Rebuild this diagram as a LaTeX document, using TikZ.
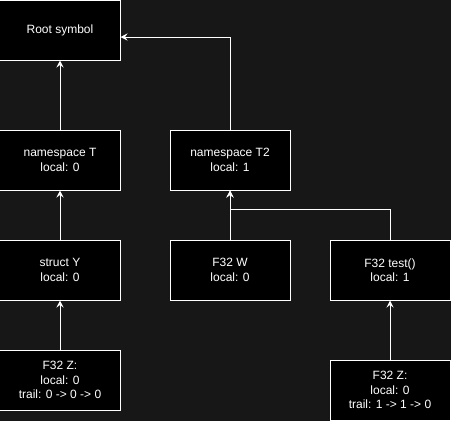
\documentclass[tikz,border=0pt]{standalone}
\usepackage{fontspec}
\setmainfont{Liberation Sans}
\usetikzlibrary{positioning, arrows.meta}
\definecolor{canvas}{RGB}{23,23,23}

\begin{document}
\begin{tikzpicture}
    [
        x=1bp, y=1bp, node distance=110bp and 170bp, on grid,
        sym_node/.style={rectangle, draw=white, fill=black, line width=1bp, minimum width=120bp, minimum height=60bp, align=center, text=white, font=\fontsize{12bp}{14.5bp}\selectfont},
        link/.style={-{Stealth[length=7bp, width=7bp, inset=2.5bp]}, line width=1bp, color=white},
    ]
        \fill[canvas] (0,0) rectangle (451,-421) ;
        \useasboundingbox (0,0) rectangle (451,-421) ;
        \node[sym_node] (root) at (60,-30) {Root symbol} ;
        \node[sym_node] (nsT) [below = 130bp of root] {namespace T\\local: 0} ;
        \node[sym_node] (nsT2) [right = of nsT] {namespace T2\\local: 1} ;
        \node[sym_node] (structY) [below = of nsT] {struct Y\\local: 0} ;
        \node[sym_node] (zLeft) [below = of structY] {F32 Z:\\local: 0\\trail: 0 -> 0 -> 0} ;
        \node[sym_node] (fW) [below = of nsT2] {F32 W\\local: 0} ;
        \node[sym_node] (fTest) [right = 160bp of fW] {F32 test()\\local: 1} ;
        \node[sym_node] (zRight) [below = 120bp of fTest] {F32 Z:\\local: 0\\trail: 1 -> 1 -> 0} ;
        \draw[link] (nsT) to (root) ;
        \draw[link] (nsT2.north) |- ([yshift=-7bp]root.east) ;
        \draw[link] (structY) to (nsT) ;
        \draw[link] (zLeft) to (structY) ;
        \draw[link] (fW) to (nsT2) ;
        \draw[link] (fTest.north) -- ++(0,30) -| (nsT2.south) ;
        \draw[link] (zRight) to (fTest) ;
    \end{tikzpicture}
\end{document}
